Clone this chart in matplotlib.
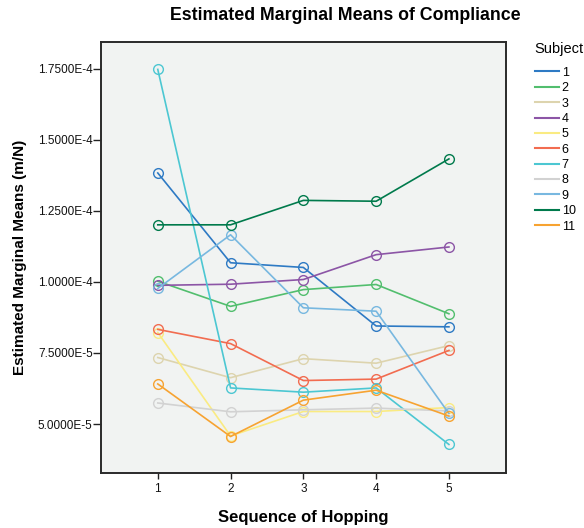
import matplotlib
matplotlib.use("Agg")
import matplotlib.pyplot as plt
from matplotlib.lines import Line2D
from matplotlib.ticker import FuncFormatter
import math

plt.rcParams['font.family'] = ['Liberation Sans', 'DejaVu Sans']

sequence = [1, 2, 3, 4, 5]
subjects = ["1", "2", "3", "4", "5", "6", "7", "8", "9", "10", "11"]
s1 = [1.3835e-4, 1.0675e-4, 1.051e-4, 0.845e-4, 0.842e-4]
s2 = [1.0025e-4, 0.914e-4, 0.973e-4, 0.991e-4, 0.888e-4]
s3 = [0.734e-4, 0.663e-4, 0.730e-4, 0.714e-4, 0.776e-4]
s4 = [0.988e-4, 0.992e-4, 1.0085e-4, 1.096e-4, 1.123e-4]
s5 = [0.822e-4, 0.458e-4, 0.544e-4, 0.544e-4, 0.558e-4]
s6 = [0.833e-4, 0.783e-4, 0.653e-4, 0.658e-4, 0.759e-4]
s7 = [1.748e-4, 0.627e-4, 0.612e-4, 0.627e-4, 0.428e-4]
s8 = [0.574e-4, 0.543e-4, 0.550e-4, 0.556e-4, 0.546e-4]
s9 = [0.977e-4, 1.166e-4, 0.909e-4, 0.897e-4, 0.537e-4]
s10 = [1.201e-4, 1.201e-4, 1.287e-4, 1.284e-4, 1.433e-4]
s11 = [0.641e-4, 0.456e-4, 0.584e-4, 0.619e-4, 0.528e-4]
series = [s1, s2, s3, s4, s5, s6, s7, s8, s9, s10, s11]
y_ticks = [5.0e-5, 7.5e-5, 1.0e-4, 1.25e-4, 1.5e-4, 1.75e-4]

colors = ["#2E7AC4", "#52BE6E", "#DDD4AE", "#8C55A6", "#FAEB82", "#F26C50",
          "#4CC7D2", "#D2D2D2", "#78B8E0", "#007A4C", "#F7A331"]

fig = plt.figure(figsize=(5.84, 5.28), dpi=100)
ax = fig.add_axes([101/584, 1 - 472.6/528, (505.7 - 101)/584, (472.6 - 42.4)/528])
ax.set_facecolor("#F1F3F2")

for vals, c in zip(series, colors):
    ax.plot(sequence, vals, color=c, lw=1.2, marker='o', markersize=7,
            markerfacecolor='none', markeredgecolor=c, markeredgewidth=1.0)

ax.set_xlim(0.22, 5.78)
ax.set_ylim(3.29e-5, 1.843e-4)
ax.set_xticks(sequence)
ax.set_yticks(y_ticks)


def fmt(v, pos):
    if v == 0:
        return "0"
    e = int(math.floor(math.log10(abs(v)) + 1e-9))
    m = v / 10**e
    return f"{m:.4f}E{e}"


ax.yaxis.set_major_formatter(FuncFormatter(fmt))
ax.tick_params(axis='both', direction='out', width=1, colors='#222222',
               labelsize=8.5, labelcolor='#111111')
ax.tick_params(axis='y', length=5.5, pad=0.5)
ax.tick_params(axis='x', length=4.5, pad=3)
for sp in ax.spines.values():
    sp.set_linewidth(1.4)
    sp.set_color('#2a2a2a')

ax.set_xlabel("Sequence of Hopping", fontsize=12, fontweight='bold', labelpad=11)
ax.set_ylabel("Estimated Marginal Means (m/N)", fontsize=11, fontweight='bold', labelpad=8)
fig.text(345/584, 1 - 16/528, "Estimated Marginal Means of Compliance",
         ha='center', va='center', fontsize=12.8, fontweight='bold')

handles = [Line2D([0], [0], color=c, lw=1.5) for c in colors]
leg = fig.legend(handles, subjects, loc='upper left', bbox_to_anchor=(526/584, 1 - 33/528),
                 frameon=False, fontsize=9, title="Subject", title_fontsize=10.5,
                 handlelength=1.9, handletextpad=0.25, labelspacing=0.27, borderpad=0.2)
leg._legend_box.align = "left"
leg._legend_box.sep = 8

fig.savefig("out.png", dpi=100)
